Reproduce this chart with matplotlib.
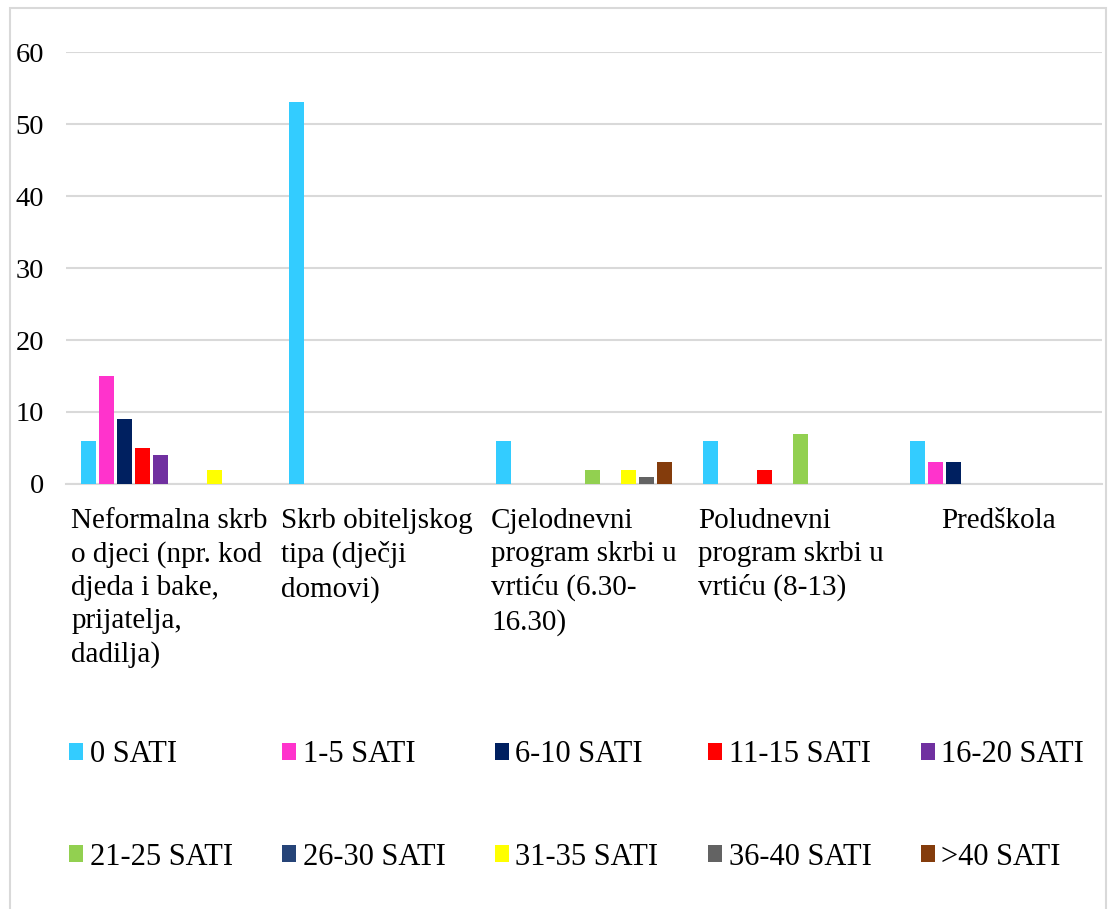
import numpy as np
import matplotlib.pyplot as plt
from matplotlib.patches import Rectangle

# ==========================================
# DATA
# ==========================================

categories = [
    "Neformalna skrb\no djeci (npr. kod\ndjeda i bake,\nprijatelja,\ndadilja)",
    "Skrb obiteljskog\ntipa (dječji\ndomovi)",
    "Cjelodnevni\nprogram skrbi u\nvrtiću (6.30-\n16.30)",
    "Poludnevni\nprogram skrbi u\nvrtiću (8-13)",
    "Predškola",
]

series_names = [
    "0 SATI", "1-5 SATI", "6-10 SATI", "11-15 SATI", "16-20 SATI",
    "21-25 SATI", "26-30 SATI", "31-35 SATI", "36-40 SATI", ">40 SATI",
]

values = [
    [6, 53, 6, 6, 6],   # 0 SATI
    [15, 0, 0, 0, 3],   # 1-5 SATI
    [9, 0, 0, 0, 3],    # 6-10 SATI
    [5, 0, 0, 2, 0],    # 11-15 SATI
    [4, 0, 0, 0, 0],    # 16-20 SATI
    [0, 0, 2, 7, 0],    # 21-25 SATI
    [0, 0, 0, 0, 0],    # 26-30 SATI
    [2, 0, 2, 0, 0],    # 31-35 SATI
    [0, 0, 1, 0, 0],    # 36-40 SATI
    [0, 0, 3, 0, 0],    # >40 SATI
]

colors = [
    "#33CCFF", "#FF33CC", "#002060", "#FF0000", "#7030A0",
    "#92D050", "#264478", "#FFFF00", "#636363", "#843C0C",
]

# ==========================================
# PLOT
# ==========================================

plt.rcParams["font.family"] = ["Liberation Serif", "DejaVu Serif"]

W, H = 1110, 909
fig = plt.figure(figsize=(W / 100, H / 100), dpi=100)

# outer chart border
fig.patches.append(
    Rectangle((10 / W, -0.05), (1106 - 10) / W, 1.05 - 8 / H,
              transform=fig.transFigure, fill=False,
              edgecolor="#D9D9D9", linewidth=1.5)
)

ax = fig.add_axes([66 / W, 1 - 484 / H, (1102 - 66) / W, (484 - 52) / H])

x = np.arange(len(categories))
step = 0.0865
width = 0.0725

handles = []
for j, (name, vals) in enumerate(zip(series_names, values)):
    b = ax.bar(x + (j - 4.5) * step, vals, width=width,
               color=colors[j], label=name, zorder=3)
    handles.append(b)

ax.set_xlim(-0.5, len(categories) - 0.5)
ax.set_ylim(0, 60)
ax.set_yticks(range(0, 61, 10))
ax.yaxis.grid(True, color="#D9D9D9", linewidth=1.5, zorder=0)
ax.set_axisbelow(True)

for s in ["top", "right", "left"]:
    ax.spines[s].set_visible(False)
ax.spines["bottom"].set_color("#D9D9D9")
ax.spines["bottom"].set_linewidth(1.5)

ax.tick_params(axis="y", length=0, pad=16, labelsize=20.5)
ax.set_xticks([])

for i, lab in enumerate(categories):
    ax.text(i, -3.3, lab, ha="center", va="top", multialignment="left",
            fontsize=21, linespacing=1.35)

# legend: 2 rows x 5 columns (matplotlib fills columns first)
order = [0, 5, 1, 6, 2, 7, 3, 8, 4, 9]
leg = fig.legend(
    [handles[k] for k in order],
    [series_names[k] for k in order],
    ncol=5, loc="upper left",
    bbox_to_anchor=(51 / W, 1 - 722 / H),
    frameon=False, fontsize=22,
    handlelength=0.46, handleheight=0.46, handletextpad=0.2,
    columnspacing=1.63, labelspacing=2.4, borderpad=0.1,
)

fig.savefig("out.png", dpi=100)
